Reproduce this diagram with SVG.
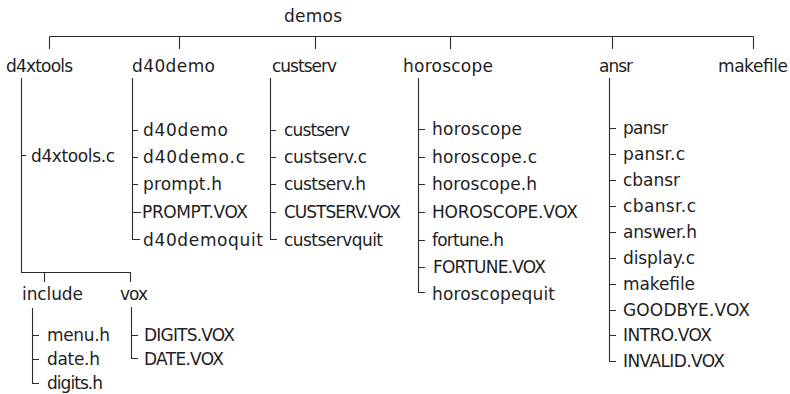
<svg xmlns="http://www.w3.org/2000/svg" width="790" height="394" viewBox="0 0 790 394">
  <style>
    text { font-family: "DejaVu Sans", "Liberation Sans", sans-serif; font-size: 17px; fill: #1e1e1e; }
    .ln { fill: none; stroke: #2a2a2a; stroke-width: 1.1; }
  </style>
  <rect width="790" height="394" fill="#ffffff"/>

  <!-- tree connectors -->
  <g id="connectors" class="ln">
    <!-- root bar and drops -->
    <path d="M49.5 36.5 H753.5 M49.5 36.5 V49 M179.5 36.5 V49 M315.5 36.5 V49 M450.5 36.5 V49 M612.5 36.5 V49 M753.5 36.5 V49"/>
    <!-- d4xtools -->
    <path d="M21.5 78 V272.5 H130.5 V282 M44.5 272.5 V282 M21.5 155.5 H26"/>
    <!-- include -->
    <path d="M32.5 308 V383.5 H39 M32.5 335.5 H39 M32.5 359.5 H39"/>
    <!-- vox -->
    <path d="M131.5 307 V358.5 H138 M131.5 335.5 H138"/>
    <!-- d40demo -->
    <path d="M132.5 78 V239.5 H140 M132.5 130.5 H138 M132.5 157.5 H138 M132.5 184.5 H138 M132.5 212.5 H141"/>
    <!-- custserv -->
    <path d="M270.5 78 V239.5 H277 M270.5 130.5 H276 M270.5 157.5 H276 M270.5 184.5 H276 M270.5 212.5 H276"/>
    <!-- horoscope -->
    <path d="M418.5 78 V292.5 H425 M418.5 129.5 H425 M418.5 157.5 H425 M418.5 184.5 H425 M418.5 212.5 H425 M418.5 240.5 H425 M418.5 267.5 H425"/>
    <!-- ansr -->
    <path d="M609.5 78 V361.5 H616 M609.5 128.5 H616 M609.5 154.5 H616 M609.5 180.5 H616 M609.5 206.5 H616 M609.5 232.5 H616 M609.5 258.5 H616 M609.5 284.5 H616 M609.5 310.5 H616 M609.5 335.5 H616"/>
  </g>

  <g id="demos"><text x="284" y="22" textLength="58" lengthAdjust="spacing">demos</text></g>

  <g id="d4xtools">
    <text x="6" y="72" textLength="67" lengthAdjust="spacing">d4xtools</text>
    <text x="31" y="162" textLength="84" lengthAdjust="spacing">d4xtools.c</text>
  </g>

  <g id="include">
    <text x="22" y="300" textLength="61" lengthAdjust="spacing">include</text>
    <text x="47" y="341" textLength="63" lengthAdjust="spacing">menu.h</text>
    <text x="47" y="365" textLength="53" lengthAdjust="spacing">date.h</text>
    <text x="47" y="389" textLength="56" lengthAdjust="spacing">digits.h</text>
  </g>

  <g id="vox">
    <text x="120" y="300" textLength="28" lengthAdjust="spacing">vox</text>
    <text x="144" y="341" textLength="91" lengthAdjust="spacing">DIGITS.VOX</text>
    <text x="144" y="365" textLength="80" lengthAdjust="spacing">DATE.VOX</text>
  </g>

  <g id="d40demo">
    <text x="132" y="72" textLength="83" lengthAdjust="spacing">d40demo</text>
    <text x="143" y="136" textLength="85" lengthAdjust="spacing">d40demo</text>
    <text x="143" y="163" textLength="102" lengthAdjust="spacing">d40demo.c</text>
    <text x="143" y="190" textLength="79" lengthAdjust="spacing">prompt.h</text>
    <text x="142" y="218" textLength="106" lengthAdjust="spacing">PROMPT.VOX</text>
    <text x="143" y="246" textLength="120" lengthAdjust="spacing">d40demoquit</text>
  </g>

  <g id="custserv">
    <text x="272" y="72" textLength="65" lengthAdjust="spacing">custserv</text>
    <text x="284" y="136" textLength="66" lengthAdjust="spacing">custserv</text>
    <text x="284" y="163" textLength="83" lengthAdjust="spacing">custserv.c</text>
    <text x="284" y="190" textLength="82" lengthAdjust="spacing">custserv.h</text>
    <text x="284" y="218" textLength="117" lengthAdjust="spacing">CUSTSERV.VOX</text>
    <text x="284" y="246" textLength="99" lengthAdjust="spacing">custservquit</text>
  </g>

  <g id="horoscope">
    <text x="403" y="72" textLength="90" lengthAdjust="spacing">horoscope</text>
    <text x="432" y="135" textLength="90" lengthAdjust="spacing">horoscope</text>
    <text x="432" y="163" textLength="105" lengthAdjust="spacing">horoscope.c</text>
    <text x="432" y="190" textLength="105" lengthAdjust="spacing">horoscope.h</text>
    <text x="432" y="218" textLength="146" lengthAdjust="spacing">HOROSCOPE.VOX</text>
    <text x="432" y="246" textLength="72" lengthAdjust="spacing">fortune.h</text>
    <text x="433" y="273" textLength="113" lengthAdjust="spacing">FORTUNE.VOX</text>
    <text x="432" y="300" textLength="123" lengthAdjust="spacing">horoscopequit</text>
  </g>

  <g id="ansr">
    <text x="599" y="72" textLength="34" lengthAdjust="spacing">ansr</text>
    <text x="623" y="134" textLength="45" lengthAdjust="spacing">pansr</text>
    <text x="623" y="160" textLength="62" lengthAdjust="spacing">pansr.c</text>
    <text x="623" y="186" textLength="57" lengthAdjust="spacing">cbansr</text>
    <text x="623" y="212" textLength="73" lengthAdjust="spacing">cbansr.c</text>
    <text x="623" y="238" textLength="74" lengthAdjust="spacing">answer.h</text>
    <text x="623" y="264" textLength="72" lengthAdjust="spacing">display.c</text>
    <text x="623" y="290" textLength="72" lengthAdjust="spacing">makefile</text>
    <text x="623" y="316" textLength="127" lengthAdjust="spacing">GOODBYE.VOX</text>
    <text x="623" y="341" textLength="89" lengthAdjust="spacing">INTRO.VOX</text>
    <text x="623" y="367" textLength="102" lengthAdjust="spacing">INVALID.VOX</text>
  </g>

  <g id="makefile"><text x="718" y="72" textLength="70" lengthAdjust="spacing">makefile</text></g>
</svg>
